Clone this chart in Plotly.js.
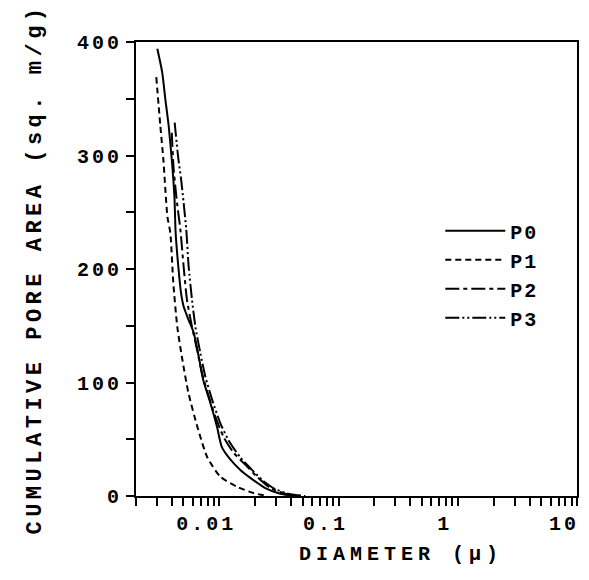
<!DOCTYPE html>
<html>
<head>
<meta charset="utf-8">
<script src="https://cdn.plot.ly/plotly-3.0.1.min.js"></script>
<style>
  html, body { margin: 0; padding: 0; background: #fff; }
  #chart { width: 589px; height: 580px; }
  text.ytitle { letter-spacing: 4.5px; }
  .annotation-text { letter-spacing: 5px; }
  g.ytick text, g.xtick text { letter-spacing: 3px; }
  .legendtext { letter-spacing: 2px; }
</style>
</head>
<body>
<div id="chart"></div>
<script>
// ---- data (diameter in microns, cumulative pore area in sq. m/g) ----
const seriesNames = ["P0", "P1", "P2", "P3"];

const p0Diameter = [0.00302, 0.00332, 0.00353, 0.00376, 0.00401, 0.00420, 0.00430, 0.00453, 0.00477, 0.00502, 0.00553, 0.00609, 0.00671, 0.00734, 0.00841, 0.00956, 0.0105, 0.0124, 0.0150, 0.0182, 0.0243, 0.0325, 0.0433];
const p0Area     = [394, 373, 349, 326, 294, 264, 232, 202, 179, 167, 155, 144, 123, 102, 82, 61, 43, 32, 23, 16, 7, 2, 0];

const p1Diameter = [0.00296, 0.00320, 0.00339, 0.00367, 0.00388, 0.00411, 0.00444, 0.00490, 0.00550, 0.00654, 0.00793, 0.0102, 0.0142, 0.0193, 0.0253];
const p1Area     = [369, 326, 297, 246, 232, 188, 149, 120, 91, 61, 34, 17, 8, 2.6, 0];

const p2Diameter = [0.00399, 0.00414, 0.00442, 0.00471, 0.00502, 0.00535, 0.00590, 0.00650, 0.00716, 0.00813, 0.00925, 0.01086, 0.0132, 0.0171, 0.0207, 0.0268, 0.0357, 0.0477];
const p2Area     = [320, 288, 258, 235, 202, 173, 149, 129, 108, 88, 70, 52, 38, 26, 17, 7, 2, 0];

const p3Diameter = [0.00422, 0.00451, 0.00478, 0.00502, 0.00528, 0.00553, 0.00590, 0.00630, 0.00693, 0.00764, 0.00869, 0.0102, 0.01197, 0.0150, 0.0188, 0.0229, 0.0295, 0.0394, 0.0525];
const p3Area     = [329, 299, 279, 258, 235, 202, 173, 149, 126, 105, 85, 64, 49, 34, 23, 14, 6, 1.5, 0];

const xTickVals  = [0.01, 0.1, 1, 10];
const xTickText  = ["0.01", "0.1", "1", "10"];
const xMinorVals = [0.002,0.003,0.004,0.005,0.006,0.007,0.008,0.009,
                    0.02,0.03,0.04,0.05,0.06,0.07,0.08,0.09,
                    0.2,0.3,0.4,0.5,0.6,0.7,0.8,0.9,
                    2,3,4,5,6,7,8,9];
const yTickVals  = [0, 100, 200, 300, 400];
const yTickText  = ["0", "100", "200", "300", "400"];

const xTitle = "DIAMETER (\u03BC)";
const yTitle = "CUMULATIVE PORE AREA (sq. m/g)";

// ---- styling ----
const FONT = "Liberation Mono, Courier New, monospace";
const dashes = ["solid", "6px,4px", "14px,4px,4px,4px", "14px,3px,2px,3px,2px,3px"];
const xs = [p0Diameter, p1Diameter, p2Diameter, p3Diameter];
const ys = [p0Area, p1Area, p2Area, p3Area];

const traces = seriesNames.map((name, i) => ({
  type: "scatter",
  mode: "lines",
  name: name,
  x: xs[i],
  y: ys[i],
  line: { color: "#000", width: 2, dash: dashes[i], shape: "spline", smoothing: 0.6 },
  hoverinfo: "skip"
}));

const layout = {
  width: 589,
  height: 580,
  margin: { l: 136, r: 12, t: 42, b: 84 },
  paper_bgcolor: "#fff",
  plot_bgcolor: "#fff",
  font: { family: FONT, color: "#000", size: 20, weight: "bold" },
  showlegend: true,
  legend: {
    x: 0.69, y: 0.627, xanchor: "left", yanchor: "top",
    bgcolor: "rgba(0,0,0,0)",
    font: { family: FONT, size: 20, color: "#000", weight: "bold" },
    itemwidth: 60,
    tracegroupgap: 0
  },
  xaxis: {
    type: "log",
    range: [Math.log10(0.002), 1],
    showline: true, linecolor: "#000", linewidth: 2, mirror: true,
    showgrid: false, zeroline: false,
    tickmode: "array", tickvals: xTickVals, ticktext: xTickText,
    ticks: "outside", ticklen: 8, tickwidth: 2, tickcolor: "#000",
    ticklabelshift: -13,
    tickfont: { family: FONT, size: 20, color: "#000", weight: "bold" },
    minor: { tickmode: "array", tickvals: xMinorVals, ticks: "outside", ticklen: 8, tickwidth: 2, tickcolor: "#000", showgrid: false }
  },
  yaxis: {
    range: [0, 400],
    showline: true, linecolor: "#000", linewidth: 2, mirror: true,
    showgrid: false, zeroline: false,
    tickmode: "array", tickvals: yTickVals, ticktext: yTickText,
    ticks: "outside", ticklen: 8, tickwidth: 2, tickcolor: "#000",
    tickfont: { family: FONT, size: 20, color: "#000", weight: "bold" },
    minor: { dtick: 50, ticks: "outside", ticklen: 8, tickwidth: 2, tickcolor: "#000", showgrid: false },
    title: { text: yTitle, font: { family: FONT, size: 22, color: "#000", weight: "bold" }, standoff: 29 }
  },
  annotations: [{
    text: xTitle, xref: "paper", yref: "paper", x: 0.60, y: -0.128,
    xanchor: "center", yanchor: "middle", showarrow: false,
    font: { family: FONT, size: 20, color: "#000", weight: "bold" }
  }]
};

Plotly.newPlot("chart", traces, layout, { displayModeBar: false, staticPlot: true });
</script>
</body>
</html>
